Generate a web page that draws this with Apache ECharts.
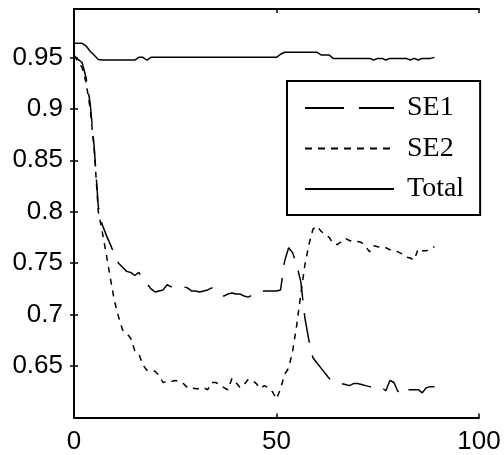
<!DOCTYPE html>
<html>
<head>
<meta charset="utf-8">
<script src="https://cdn.jsdelivr.net/npm/echarts@6/dist/echarts.min.js"></script>
<style>
  html, body { margin: 0; padding: 0; background: #fff; }
  #chart { width: 504px; height: 455px; }
</style>
</head>
<body>
<div id="chart"></div>
<script>
// Iteration index (x axis)
const iterations = [
  0, 1, 2, 3, 4, 5, 6, 7, 8, 9,
  10, 11, 12, 13, 14, 15, 16, 17, 18, 19,
  20, 21, 22, 23, 24, 25, 26, 27, 28, 29,
  30, 31, 32, 33, 34, 35, 36, 37, 38, 39,
  40, 41, 42, 43, 44, 45, 46, 47, 48, 49,
  50, 51, 52, 53, 54, 55, 56, 57, 58, 59,
  60, 61, 62, 63, 64, 65, 66, 67, 68, 69,
  70, 71, 72, 73, 74, 75, 76, 77, 78, 79,
  80, 81, 82, 83, 84, 85, 86, 87, 88, 89
];

const se1 = [
  0.952, 0.948, 0.945, 0.930, 0.905, 0.862, 0.805, 0.787, 0.777, 0.768,
  0.758, 0.750, 0.746, 0.742, 0.741, 0.738, 0.741, 0.735, 0.730, 0.725,
  0.722, 0.723, 0.724, 0.729, 0.727, 0.727, 0.726, 0.727, 0.726, 0.723,
  0.723, 0.722, 0.723, 0.724, 0.726, 0.724, 0.721, 0.718, 0.720, 0.721,
  0.720, 0.720, 0.718, 0.717, 0.719, 0.722, 0.722, 0.723, 0.723, 0.723,
  0.723, 0.724, 0.752, 0.765, 0.760, 0.748, 0.732, 0.697, 0.675, 0.658,
  0.653, 0.648, 0.643, 0.638, 0.635, 0.634, 0.633, 0.632, 0.631, 0.633,
  0.633, 0.632, 0.631, 0.630, 0.629, 0.628, 0.629, 0.626, 0.636, 0.634,
  0.625, 0.630, 0.627, 0.627, 0.627, 0.627, 0.624, 0.629, 0.630, 0.630
];

const se2 = [
  0.952, 0.946, 0.940, 0.925, 0.900, 0.860, 0.800, 0.780, 0.758, 0.735,
  0.713, 0.698, 0.685, 0.682, 0.677, 0.665, 0.662, 0.651, 0.646, 0.645,
  0.645, 0.641, 0.634, 0.635, 0.635, 0.636, 0.635, 0.633, 0.629, 0.629,
  0.628, 0.628, 0.629, 0.627, 0.634, 0.634, 0.632, 0.629, 0.627, 0.638,
  0.634, 0.629, 0.632, 0.637, 0.636, 0.633, 0.628, 0.631, 0.629, 0.625,
  0.618, 0.628, 0.642, 0.648, 0.665, 0.690, 0.720, 0.748, 0.768, 0.783,
  0.786, 0.781, 0.778, 0.775, 0.769, 0.768, 0.771, 0.774, 0.772, 0.771,
  0.771, 0.770, 0.766, 0.761, 0.767, 0.766, 0.765, 0.765, 0.763, 0.762,
  0.761, 0.759, 0.756, 0.755, 0.753, 0.764, 0.762, 0.762, 0.764, 0.766
];

const total = [
  0.9637, 0.9637, 0.9637, 0.961, 0.956, 0.952, 0.948, 0.9474, 0.9474, 0.9474,
  0.9474, 0.9474, 0.9474, 0.9474, 0.9474, 0.9474, 0.950, 0.950, 0.9474, 0.950,
  0.950, 0.950, 0.950, 0.950, 0.950, 0.950, 0.950, 0.950, 0.950, 0.950,
  0.950, 0.950, 0.950, 0.950, 0.950, 0.950, 0.950, 0.950, 0.950, 0.950,
  0.950, 0.950, 0.950, 0.950, 0.950, 0.950, 0.950, 0.950, 0.950, 0.950,
  0.950, 0.953, 0.955, 0.955, 0.955, 0.955, 0.955, 0.955, 0.955, 0.955,
  0.955, 0.9523, 0.9523, 0.9523, 0.949, 0.949, 0.949, 0.949, 0.949, 0.949,
  0.949, 0.949, 0.949, 0.949, 0.9474, 0.949, 0.949, 0.9474, 0.949, 0.949,
  0.949, 0.949, 0.949, 0.9474, 0.949, 0.9474, 0.949, 0.949, 0.949, 0.950
];

const seriesNames = ['SE1', 'SE2', 'Total'];
const xTicks = [0, 50, 100];
const yTicks = [0.65, 0.7, 0.75, 0.8, 0.85, 0.9, 0.95];

const pairs = (ys) => iterations.map((x, i) => [x, ys[i]]);

const tickFont = { fontFamily: 'Liberation Sans', fontSize: 26, color: '#000' };
const frameLine = { lineStyle: { color: '#000', width: 2 } };
const innerTick = { show: true, inside: true, length: 4, lineStyle: { color: '#000', width: 1.5 } };

const chart = echarts.init(document.getElementById('chart'), null, { renderer: 'canvas' });

chart.setOption({
  animation: false,
  backgroundColor: '#fff',
  grid: { left: 74, top: 9, width: 405, height: 408.5, containLabel: false },
  xAxis: [
    {
      type: 'value', position: 'bottom', min: 0, max: 100, interval: 50,
      axisLine: frameLine,
      axisTick: Object.assign({ customValues: xTicks }, innerTick),
      axisLabel: Object.assign({ margin: 11, customValues: xTicks }, tickFont),
      splitLine: { show: false }
    },
    {
      type: 'value', position: 'top', min: 0, max: 100, interval: 50,
      axisLine: frameLine,
      axisTick: Object.assign({ customValues: xTicks }, innerTick),
      axisLabel: { show: false },
      splitLine: { show: false }
    }
  ],
  yAxis: [
    {
      type: 'value', position: 'left', min: 0.6, max: 0.997,
      axisLine: frameLine,
      axisTick: Object.assign({ customValues: yTicks }, innerTick),
      axisLabel: Object.assign({
        margin: 11,
        customValues: yTicks,
        formatter: (v) => String(+(+v).toFixed(2))
      }, tickFont),
      splitLine: { show: false }
    },
    {
      type: 'value', position: 'right', min: 0.6, max: 0.997,
      axisLine: frameLine,
      axisTick: Object.assign({ customValues: yTicks }, innerTick),
      axisLabel: { show: false },
      splitLine: { show: false }
    }
  ],
  legend: {
    orient: 'vertical',
    left: 287,
    top: 81,
    padding: [12, 16, 11, 17],
    itemWidth: 89,
    itemHeight: 14,
    itemGap: 10.5,
    backgroundColor: '#fff',
    borderColor: '#000',
    borderWidth: 2,
    borderRadius: 0,
    selectedMode: false,
    // line-only keys: hide the marker dot
    itemStyle: { opacity: 0 },
    textStyle: {
      fontFamily: 'Liberation Serif', fontSize: 28, color: '#000',
      lineHeight: 30, padding: [0, 0, 0, 8]
    },
    data: [
      { name: seriesNames[0], lineStyle: { type: [39, 15] } },
      { name: seriesNames[1], lineStyle: { type: [7, 6] } },
      { name: seriesNames[2] }
    ]
  },
  series: [
    {
      name: seriesNames[0], type: 'line', symbol: 'none', data: pairs(se1),
      lineStyle: { color: '#000', width: 1.5, type: [30, 13] },
      itemStyle: { color: '#000' }
    },
    {
      name: seriesNames[1], type: 'line', symbol: 'none', data: pairs(se2),
      lineStyle: { color: '#000', width: 1.5, type: [6, 6] },
      itemStyle: { color: '#000' }
    },
    {
      name: seriesNames[2], type: 'line', symbol: 'none', data: pairs(total),
      lineStyle: { color: '#000', width: 1.5 },
      itemStyle: { color: '#000' }
    }
  ]
});
</script>
</body>
</html>
